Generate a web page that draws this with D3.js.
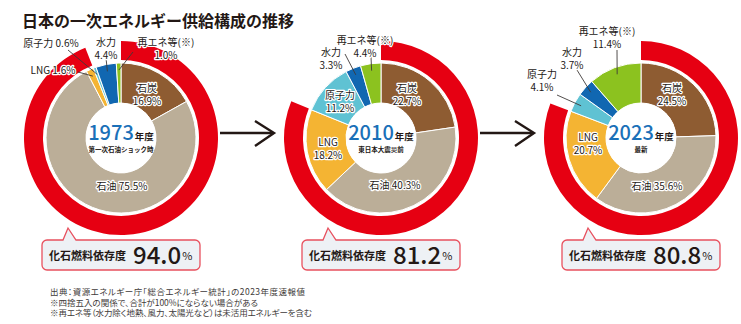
<!DOCTYPE html>
<html><head><meta charset="utf-8">
<script src="https://cdn.jsdelivr.net/npm/d3@7"></script>
<style>
html,body{margin:0;padding:0;background:#fff;}
svg{display:block;font-family:"Noto Sans CJK JP","Noto Sans",sans-serif;}
.palt{font-feature-settings:"palt";}
</style></head>
<body><svg id="c" width="741" height="324"></svg>
<script>
// ---- data ----
const title = "日本の一次エネルギー供給構成の推移";
const years = ["1973", "2010", "2023"];
const yearNotes = ["第一次石油ショック時", "東日本大震災前", "最新"];
const sources = ["石炭", "石油", "LNG", "原子力", "水力", "再エネ等(※)"];
const share1973 = [16.9, 75.5, 1.6, 0.6, 4.4, 1.0];
const share2010 = [22.7, 40.3, 18.2, 11.2, 3.3, 4.4];
const share2023 = [24.5, 35.6, 20.7, 4.1, 3.7, 11.4];
const fossilShare = [94.0, 81.2, 80.8];
const fossilLabel = "化石燃料依存度";
const notes = [
  "出典：資源エネルギー庁「総合エネルギー統計」の2023年度速報値",
  "※四捨五入の関係で、合計が100%にならない場合がある",
  "※再エネ等（水力除く地熱、風力、太陽光など）は未活用エネルギーを含む"
];
const shares = [share1973, share2010, share2023];

// ---- styles / layout ----
const colors = ["#8e5c32", "#bbae98", "#f4b433", "#5fc2d3", "#1167b1", "#8cc21f"];
const red = "#e60012";
const ink = "#231815";
const cxScale = d3.scalePoint().domain(years).range([121, 641]);
const cy = 138;
const rHole = 35, rPie = 75, rRingIn = 78, rRingOut = 97;
const noteWidths = [255, 208, 262];

// label layout per chart: source index -> text offset, two-line flag, leader start
const labelLayout = [
  { // 1973
    0:{dx:26,dy:-50,two:true}, 1:{dx:1,dy:48,two:false},
    2:{dx:-68,dy:-68,two:false,lx:-43,ly:-66},
    3:{dx:-70,dy:-95,two:false,lx:-53,ly:-88},
    4:{dx:-15,dy:-96,two:true,lx:-15,ly:-80},
    5:{dx:45,dy:-96,two:true,lx:12,ly:-86}
  },
  { // 2010
    0:{dx:26,dy:-50,two:true}, 1:{dx:14,dy:47,two:false},
    2:{dx:-53,dy:4,two:true}, 3:{dx:-41,dy:-43,two:true},
    4:{dx:-50,dy:-86,two:true,lx:-36,ly:-84},
    5:{dx:-16,dy:-98,two:true,lx:-10,ly:-81}
  },
  { // 2023
    0:{dx:31,dy:-50,two:true}, 1:{dx:16,dy:48,two:false},
    2:{dx:-53,dy:-1,two:true},
    3:{dx:-99,dy:-64,two:true,lx:-84,ly:-43},
    4:{dx:-69,dy:-86,two:true,lx:-64,ly:-68},
    5:{dx:-34,dy:-107,two:true,lx:-24,ly:-88}
  }
];

const svg = d3.select("#c");
const fmt = d3.format(".1f");

svg.append("text").attr("x", 22).attr("y", 27).attr("font-size", 16).attr("font-weight", 700)
  .attr("fill", ink).text(title);

const pie = d3.pie().sort(null).value(d => d);
const arcPie = d3.arc().innerRadius(rHole).outerRadius(rPie);
const arcRing = d3.arc().innerRadius(rRingIn).outerRadius(rRingOut);
const ang = d3.scaleLinear().domain([0, 100]).range([0, 2 * Math.PI]);

years.forEach((yr, i) => {
  const cx = cxScale(yr);
  const g = svg.append("g").attr("transform", `translate(${cx},${cy})`);
  // fossil ring
  g.append("path").attr("d", arcRing({startAngle: 0, endAngle: ang(fossilShare[i])})).attr("fill", red);
  // pie
  const arcs = pie(shares[i]);
  g.selectAll("path.s").data(arcs).join("path").attr("class", "s")
    .attr("d", arcPie).attr("fill", (d, k) => colors[k])
    .attr("stroke", "#fff").attr("stroke-width", 1);
  // leader lines
  arcs.forEach((a, k) => {
    const L = labelLayout[i][k];
    if (L.lx === undefined) return;
    const m = (a.startAngle + a.endAngle) / 2;
    const r = 68;
    g.append("line").attr("x1", L.lx).attr("y1", L.ly)
      .attr("x2", r * Math.sin(m)).attr("y2", -r * Math.cos(m))
      .attr("stroke", "#3e3a39").attr("stroke-width", 0.9);
  });
  // labels
  arcs.forEach((a, k) => {
    const L = labelLayout[i][k];
    const t = g.append("text").attr("text-anchor", "middle").attr("font-size", 10)
      .attr("fill", ink).attr("stroke", "#fff").attr("stroke-width", 2.4)
      .attr("stroke-linejoin", "round").attr("paint-order", "stroke");
    const val = fmt(shares[i][k]) + "%";
    if (L.two) {
      t.append("tspan").attr("x", L.dx).attr("y", L.dy + 4).text(sources[k]);
      t.append("tspan").attr("x", L.dx).attr("y", L.dy + 16.5).text(val);
    } else {
      t.append("tspan").attr("x", L.dx).attr("y", L.dy + 4).text(sources[k] + " " + val);
    }
  });
  // center
  g.append("circle").attr("r", rHole).attr("fill", "#fff");
  const yt = g.append("text").attr("x", -28).attr("y", 2)
    .attr("font-size", 20).attr("font-weight", 500).attr("fill", "#1a70b8").text(yr);
  const yw = yt.node().getComputedTextLength();
  const nd = g.append("text").attr("y", 2).attr("font-size", 9.5)
    .attr("font-weight", 700).attr("fill", ink).text("年度");
  const total = yw + 1 + nd.node().getComputedTextLength();
  yt.attr("x", -total / 2);
  nd.attr("x", -total / 2 + yw + 1);
  g.append("text").attr("text-anchor", "middle").attr("y", 14).attr("font-size", 6.5)
    .attr("font-weight", 700).attr("fill", ink).text(yearNotes[i]);

  // callout box
  const x0 = cx - 79, x1 = cx + 79, y0 = 240, y1 = 270, rr = 5;
  const p = d3.path();
  p.moveTo(x0 + rr, y0);
  p.lineTo(cx - 58, y0); p.lineTo(cx - 53, 228); p.lineTo(cx - 45, y0);
  p.lineTo(x1 - rr, y0); p.arcTo(x1, y0, x1, y0 + rr, rr);
  p.lineTo(x1, y1 - rr); p.arcTo(x1, y1, x1 - rr, y1, rr);
  p.lineTo(x0 + rr, y1); p.arcTo(x0, y1, x0, y1 - rr, rr);
  p.lineTo(x0, y0 + rr); p.arcTo(x0, y0, x0 + rr, y0, rr);
  p.closePath();
  svg.append("path").attr("d", p.toString()).attr("fill", "#eef1f5")
    .attr("stroke", "#e8505e").attr("stroke-width", 1.3);
  svg.append("text").attr("x", cx - 72).attr("y", 260).attr("font-size", 11).attr("font-weight", 700)
    .attr("fill", ink).text(fossilLabel);
  const bt = svg.append("text").attr("x", cx + 12).attr("y", 264).attr("fill", ink);
  bt.append("tspan").attr("font-size", 24).attr("font-weight", 500)
    .text(fmt(fossilShare[i]));
  bt.append("tspan").attr("font-size", 11).attr("dx", 1).attr("dy", -4).text("%");

  // arrow
  if (i < years.length - 1) {
    const a = svg.append("g").attr("stroke", ink).attr("stroke-width", 2.4).attr("fill", "none");
    a.append("line").attr("x1", cx + 99).attr("y1", 133).attr("x2", cx + 152).attr("y2", 133);
    a.append("polyline").attr("points", `${cx+134},${121} ${cx+153},${133} ${cx+134},${146}`)
      .attr("stroke-linejoin", "miter");
  }
});

svg.selectAll("text.note").data(notes).join("text").attr("class", "note palt")
  .attr("x", 50).attr("y", (d, k) => 295 + k * 10.5).attr("font-size", 8.5).attr("fill", "#3e3a39")
  .attr("textLength", (d, k) => noteWidths[k]).attr("lengthAdjust", "spacing")
  .text(d => d);
</script></body></html>
